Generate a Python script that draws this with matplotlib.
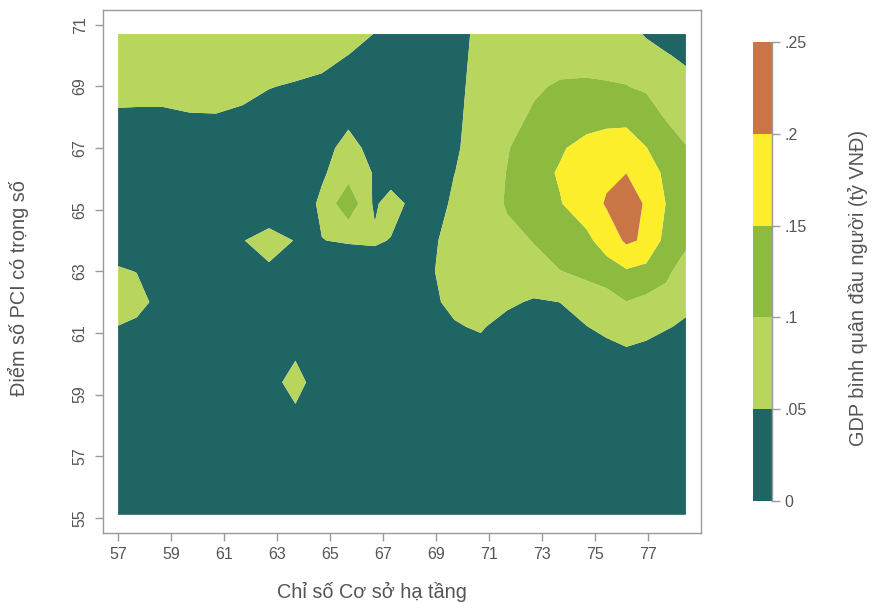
import numpy as np
import matplotlib
matplotlib.use("Agg")
import matplotlib.pyplot as plt

plt.rcParams['font.family'] = ['Liberation Sans', 'DejaVu Sans']

# grid of read-off values: columns = infrastructure index, rows = PCI score (top to bottom)
x_grid = [57.0, 57.7, 58.7, 59.7, 60.7, 61.7, 62.7, 63.7, 64.7, 65.7, 66.7, 67.3,
          68.7, 69.7, 70.7, 71.7, 72.7, 73.7, 74.7, 75.45, 76.2, 76.95, 77.7, 78.45]
y_grid = [70.7, 70, 69, 68, 67, 66.2, 65.2, 64, 63, 62, 61.2, 60.4, 59.4, 58.4, 57, 56, 55.1]

r70_7 = [.08, .08, .08, .08, .08, .08, .08, .08, .08, .08, .048, .02, .02, .035, .06, .075, .082, .085, .085, .08, .07, .045, .03, .02]
r70 = [.08, .08, .08, .08, .08, .08, .08, .075, .07, .049, .03, .02, .02, .035, .0633, .08, .088, .085, .08, .083, .085, .07, .054, .04]
r69 = [.073, .07, .07, .078, .087, .0735, .052, .045, .035, .025, .02, .02, .02, .035, .07, .085, .095, .1044, .108, .104, .101, .093, .085, .069]
r68 = [.04, .04, .04, .045, .045, .035, .03, .02, .02, .03, .02, .02, .02, .04, .07, .088, .105, .118, .13, .135, .135, .125, .096, .085]
r67 = [.03, .03, .03, .03, .03, .025, .02, .02, .02, .08, .02, .02, .025, .045, .0667, .098, .118, .145, .166, .175, .18, .151, .129, .1017]
r66_2 = [.025, .025, .025, .025, .025, .025, .025, .02, .043, .08, .046, .013, .03, .049, .082, .101, .135, .154, .175, .19, .199, .185, .136, .115]
r65_2 = [.02, .02, .02, .02, .02, .025, .03, .015, .06, .137, .04, .08, .0, .065, .088, .102, .125, .148, .173, .205, .245, .19, .149, .12]
r64 = [.025, .025, .025, .025, .025, .049, .06, .049, .049, .055, .06, .0467, .035, .0725, .085, .095, .1006, .125, .14, .17, .208, .193, .134, .115]
r63 = [.055, .049, .03, .025, .025, .03, .0457, .03, .02, .01, .005, .02, .04, .077, .085, .09, .095, .099, .109, .13, .145, .135, .115, .0666]
r62 = [.07, .068, .0305, .025, .02, .02, .025, .025, .02, .02, .02, .02, .04, .06, .065, .06, .0433, .0504, .079, .075, .099, .088, .075, .065]
r61_2 = [.049, .039, .025, .02, .02, .02, .02, .02, .02, .02, .02, .02, .02, .046, .055, .03, .03, .035, .0487, .065, .07, .068, .0548, .0403]
r60_4 = [.02, .02, .02, .02, .02, .02, .025, .0457, .025, .02, .02, .02, .02, .02, .035, .02, .02, .02, .025, .0317, .0454, .036, .02, .02]
r59_4 = [.02, .02, .02, .02, .02, .02, .04, .06, .035, .02, .02, .02, .02, .02, .02, .02, .02, .02, .02, .02, .02, .02, .02, .02]
r58_4 = [.02, .02, .02, .02, .02, .02, .02, .0457, .02, .02, .02, .02, .02, .02, .02, .02, .02, .02, .02, .02, .02, .02, .02, .02]
r57 = [.02, .02, .02, .02, .02, .02, .02, .02, .02, .02, .02, .02, .02, .02, .02, .02, .02, .02, .02, .02, .02, .02, .02, .02]
r56 = [.02, .02, .02, .02, .02, .02, .02, .02, .02, .02, .02, .02, .02, .02, .02, .02, .02, .02, .02, .02, .02, .02, .02, .02]
r55_1 = [.02, .02, .02, .02, .02, .02, .02, .02, .02, .02, .02, .02, .02, .02, .02, .02, .02, .02, .02, .02, .02, .02, .02, .02]

levels = [0, 0.05, 0.1, 0.15, 0.2, 0.25]
level_labels = ['0', '.05', '.1', '.15', '.2', '.25']
band_colors = ['#1f6563', '#b8d65e', '#8cbb40', '#fdee2c', '#c97545']
x_ticks = [57, 59, 61, 63, 65, 67, 69, 71, 73, 75, 77]
y_ticks = [55, 57, 59, 61, 63, 65, 67, 69, 71]

Z = np.array([r70_7, r70, r69, r68, r67, r66_2, r65_2, r64, r63, r62, r61_2,
              r60_4, r59_4, r58_4, r57, r56, r55_1])[::-1]
Y = np.array(y_grid)[::-1]
X = np.array(x_grid)

W, H = 871, 603
fig = plt.figure(figsize=(W / 100, H / 100), dpi=100)
ax = fig.add_axes([103 / W, 1 - 533 / H, (701 - 103) / W, (533 - 10) / H])

cs = ax.contourf(X, Y, Z, levels=levels, colors=band_colors, antialiased=True)

ax.set_xlim(56.43, 79.02)
ax.set_ylim(54.51, 71.48)
ax.set_xticks(x_ticks)
ax.set_yticks(y_ticks)
ax.set_xticklabels([str(t) for t in x_ticks])
ax.set_yticklabels([str(t) for t in y_ticks], rotation=90, va='center')

grey = '#9a9a9a'
txt = '#555555'
for s in ax.spines.values():
    s.set_color(grey)
    s.set_linewidth(1.0)
ax.tick_params(axis='both', colors=grey, length=6, width=1.0, labelcolor=txt,
               labelsize=11.5)
ax.tick_params(axis='x', pad=4)
ax.tick_params(axis='y', pad=5)

fig.text(372 / W, 1 - 592 / H, 'Chỉ số Cơ sở hạ tầng', ha='center', va='center',
         fontsize=14.3, color=txt)
fig.text(18 / W, 1 - 288 / H, 'Điểm số PCI có trọng số', ha='center', va='center',
         rotation=90, fontsize=14.3, color=txt)

cax = fig.add_axes([753 / W, 1 - 501 / H, (772 - 753) / W, (501 - 42) / H])
cb = fig.colorbar(cs, cax=cax, ticks=levels)
cb.outline.set_visible(False)
cb.ax.set_yticklabels(level_labels)
cb.ax.tick_params(colors=grey, length=6, width=1.0, labelcolor=txt, labelsize=11.5, pad=3)
cax.plot([1, 1], [0, 1], transform=cax.transAxes, color=grey, lw=1.0, clip_on=False)
fig.text(858 / W, 1 - 288 / H, 'GDP bình quân đầu người (tỷ VNĐ)', ha='center',
         va='center', rotation=90, fontsize=14.3, color=txt)

fig.savefig('out.png', dpi=100, facecolor='white')
